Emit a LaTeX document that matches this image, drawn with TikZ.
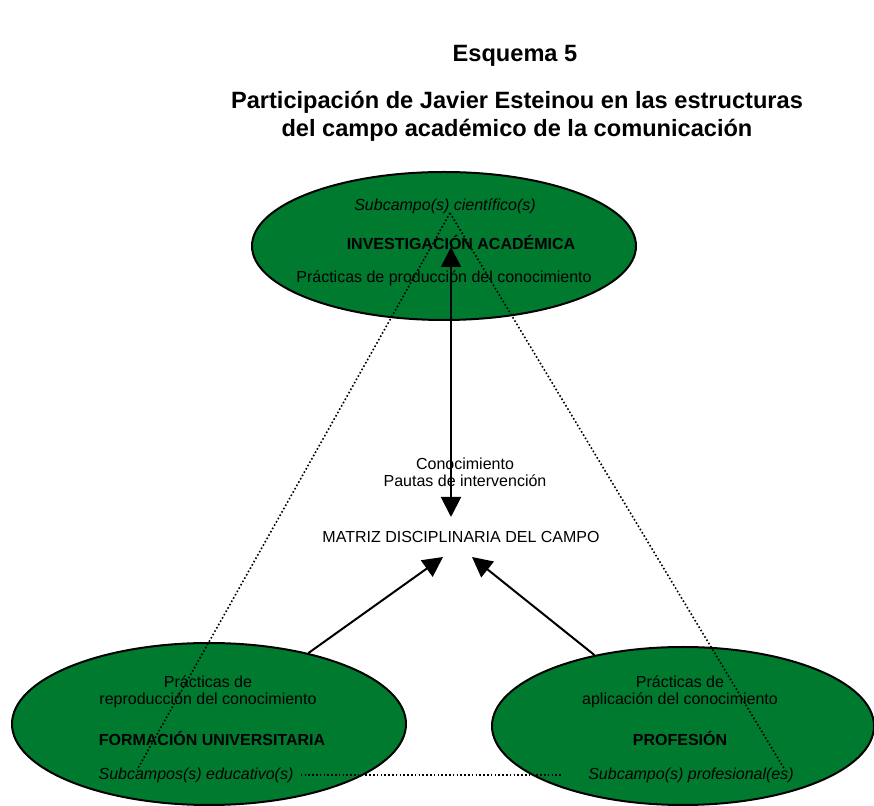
\documentclass[tikz,border=0pt]{standalone}
\usepackage{fontspec}
\setmainfont{Liberation Sans}
\usetikzlibrary{shapes.geometric, arrows.meta, positioning}
\definecolor{verdecampo}{RGB}{0,122,46}

\begin{document}
\begin{tikzpicture}[
x=0.5pt, y=-0.5pt,
every node/.style={
    font=\fontsize{8}{8.7}\selectfont,
    align=center,
    inner sep=0pt,
    },
titular/.style={
    font=\fontsize{11.8}{14}\selectfont\bfseries,
    },
campo/.style={
    ellipse,
    draw,
    line width=1pt,
    fill=verdecampo,
    },
punta/.style={
    line width=1pt,
    },
flecha/.style={
    draw,
    line width=1pt,
    -{Triangle[length=10pt,width=10pt]},
    },
enlace/.style={
    draw,
    line width=0.8pt,
    dash pattern=on 0.8pt off 1.1pt,
    },
]
\useasboundingbox (0,0) rectangle (874,806);

% titulo
\node[titular] (esquema) at (515,56) {Esquema 5};
\node[titular] (titulo) at (517,116)
      {Participación de Javier Esteinou en las estructuras\\
       del campo académico de la comunicación};

% los tres subcampos
\node[campo, minimum width=192pt, minimum height=74pt] (inv) at (444,246) {};
\node[campo, minimum width=197pt, minimum height=81pt] (fu) at (209,724) {};
\node[campo, minimum width=191pt, minimum height=79pt] (pr) at (683,726) {};

\node (cien) at (445,206) {\itshape Subcampo(s) científico(s)};
\node (invtit) at (461,242) {\bfseries INVESTIGACIÓN ACADÉMICA};
\node (invprac) at (444,278) {Prácticas de producción del conocimiento};

\node (fuprac) at (208,692) {Prácticas de\\reproducción del conocimiento};
\node (futit) at (212,738) {\bfseries FORMACIÓN UNIVERSITARIA};
\node (educ) at (196,775) {\itshape Subcampos(s) educativo(s)};

\node (prprac) at (680,692) {Prácticas de\\aplicación del conocimiento};
\node (prtit) at (680,738) {\bfseries PROFESIÓN};
\node (prof) at (691,775) {\itshape Subcampo(s) profesional(es)};

% centro
\node (saber) at (465,472) {Conocimiento\\Pautas de intervención};
\node (matriz) at (461,537) {MATRIZ DISCIPLINARIA DEL CAMPO};

\coordinate (cima) at (450,213);
\coordinate (pieIzq) at (137,770);
\coordinate (pieDer) at (785,770);
\coordinate (tipArriba) at (451,247);
\coordinate (tipAbajo) at (451,517);
\coordinate (matIzq) at (443,557);
\coordinate (matDer) at (472,557);

\path[enlace] (cima) -- (pieIzq)
              (cima) -- (pieDer);
\path[enlace, shorten <=3.5pt, shorten >=13pt] (educ.east) -- (prof.west);

\path[draw, punta, {Triangle[length=10pt,width=10pt]}-{Triangle[length=10pt,width=10pt]}]
      (tipArriba) -- (tipAbajo);
\path[flecha] (fu) -- (matIzq);
\path[flecha] (pr) -- (matDer);
\end{tikzpicture}
\end{document}
